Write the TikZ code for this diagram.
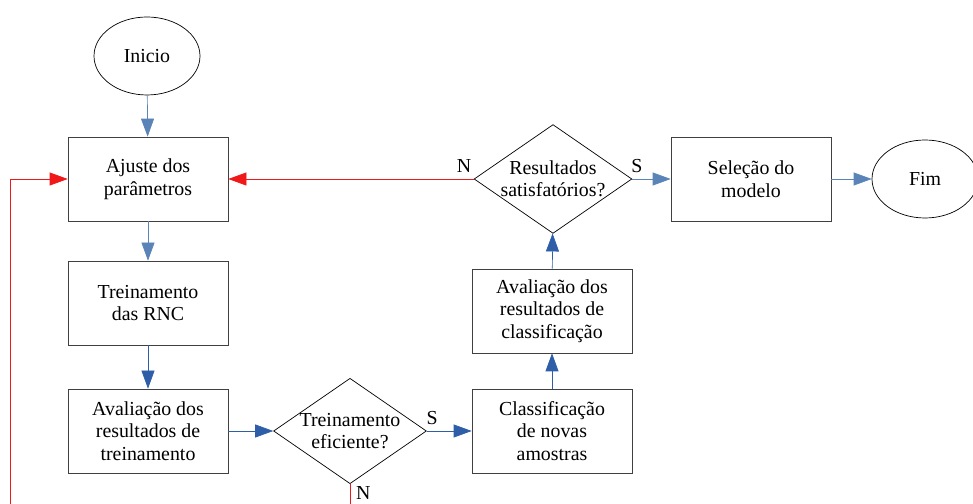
\documentclass[tikz,border=0pt]{standalone}
\usepackage{fontspec}
\setmainfont{Liberation Serif}
\usepackage{xcolor}
\usetikzlibrary{shapes.geometric, arrows.meta}

\definecolor{azulclaro}{HTML}{5A84B8}
\definecolor{azulescuro}{HTML}{2E5EA8}
\definecolor{vermelho}{HTML}{F01818}
\definecolor{borda}{HTML}{404040}

\begin{document}
\begin{tikzpicture}[
  every node/.style={font=\fontsize{11.3}{12.8}\selectfont},
  caixa/.style={rectangle, draw=borda, minimum width=3.2cm, minimum height=1.68cm, align=center},
  decisao/.style={diamond, draw, aspect=1.45, inner sep=0pt, align=center},
  terminal/.style={ellipse, draw, minimum width=2.12cm, minimum height=1.56cm},
  seta/.style={draw=azulclaro, -{Triangle[length=0.36cm,width=0.26cm]}},
  setaesc/.style={draw=azulescuro, -{Triangle[length=0.36cm,width=0.26cm]}},
  setavermelha/.style={draw=vermelho, -{Triangle[length=0.36cm,width=0.26cm]}}
]
\useasboundingbox (0,0) rectangle (19.46,10.08);

\node[terminal] (inicio) at (2.94,8.96) {Inicio};
\node[caixa] (ajuste) at (2.96,6.5) {Ajuste dos\\parâmetros};
\node[caixa] (treino) at (2.96,4.02) {Treinamento\\das RNC};
\node[caixa] (avaltreino) at (2.96,1.46) {Avaliação dos\\resultados de\\treinamento};
\node[decisao] (eficiente) at (7.0,1.46) {Treinamento\\eficiente?};
\node[caixa] (classif) at (11.04,1.46) {Classificação\\de novas\\amostras};
\node[caixa] (avalclass) at (11.04,3.86) {Avaliação dos\\resultados de\\classificação};
\node[decisao] (satisf) at (11.06,6.5) {Resultados\\satisfatórios?};
\node[caixa] (selecao) at (15.02,6.5) {Seleção do\\modelo};
\node[terminal] (fim) at (18.5,6.5) {Fim};

\coordinate (voltabaixo) at (0.2,0);
\coordinate (nbaixo) at (eficiente.south |- 0,0);

\draw[seta] (inicio) -- (ajuste);
\draw[seta] (ajuste) -- (treino);
\draw[setaesc] (treino) -- (avaltreino);
\draw[setaesc] (avaltreino) -- (eficiente);
\draw[setaesc] (eficiente) -- node[above, pos=0.12, text=black] {S} (classif);
\draw[setaesc] (classif) -- (avalclass);
\draw[setaesc] (avalclass) -- (satisf);
\draw[seta] (satisf) -- node[above, pos=0.12, text=black] {S} (selecao);
\draw[seta] (selecao) -- (fim);
\draw[setavermelha] (satisf) -- node[above, pos=0.04, text=black] {N} (ajuste);
\draw[vermelho] (eficiente.south) -- node[right, pos=0.45, text=black] {N} (nbaixo);
\draw[setavermelha] (voltabaixo) |- (ajuste.west);
\end{tikzpicture}
\end{document}
